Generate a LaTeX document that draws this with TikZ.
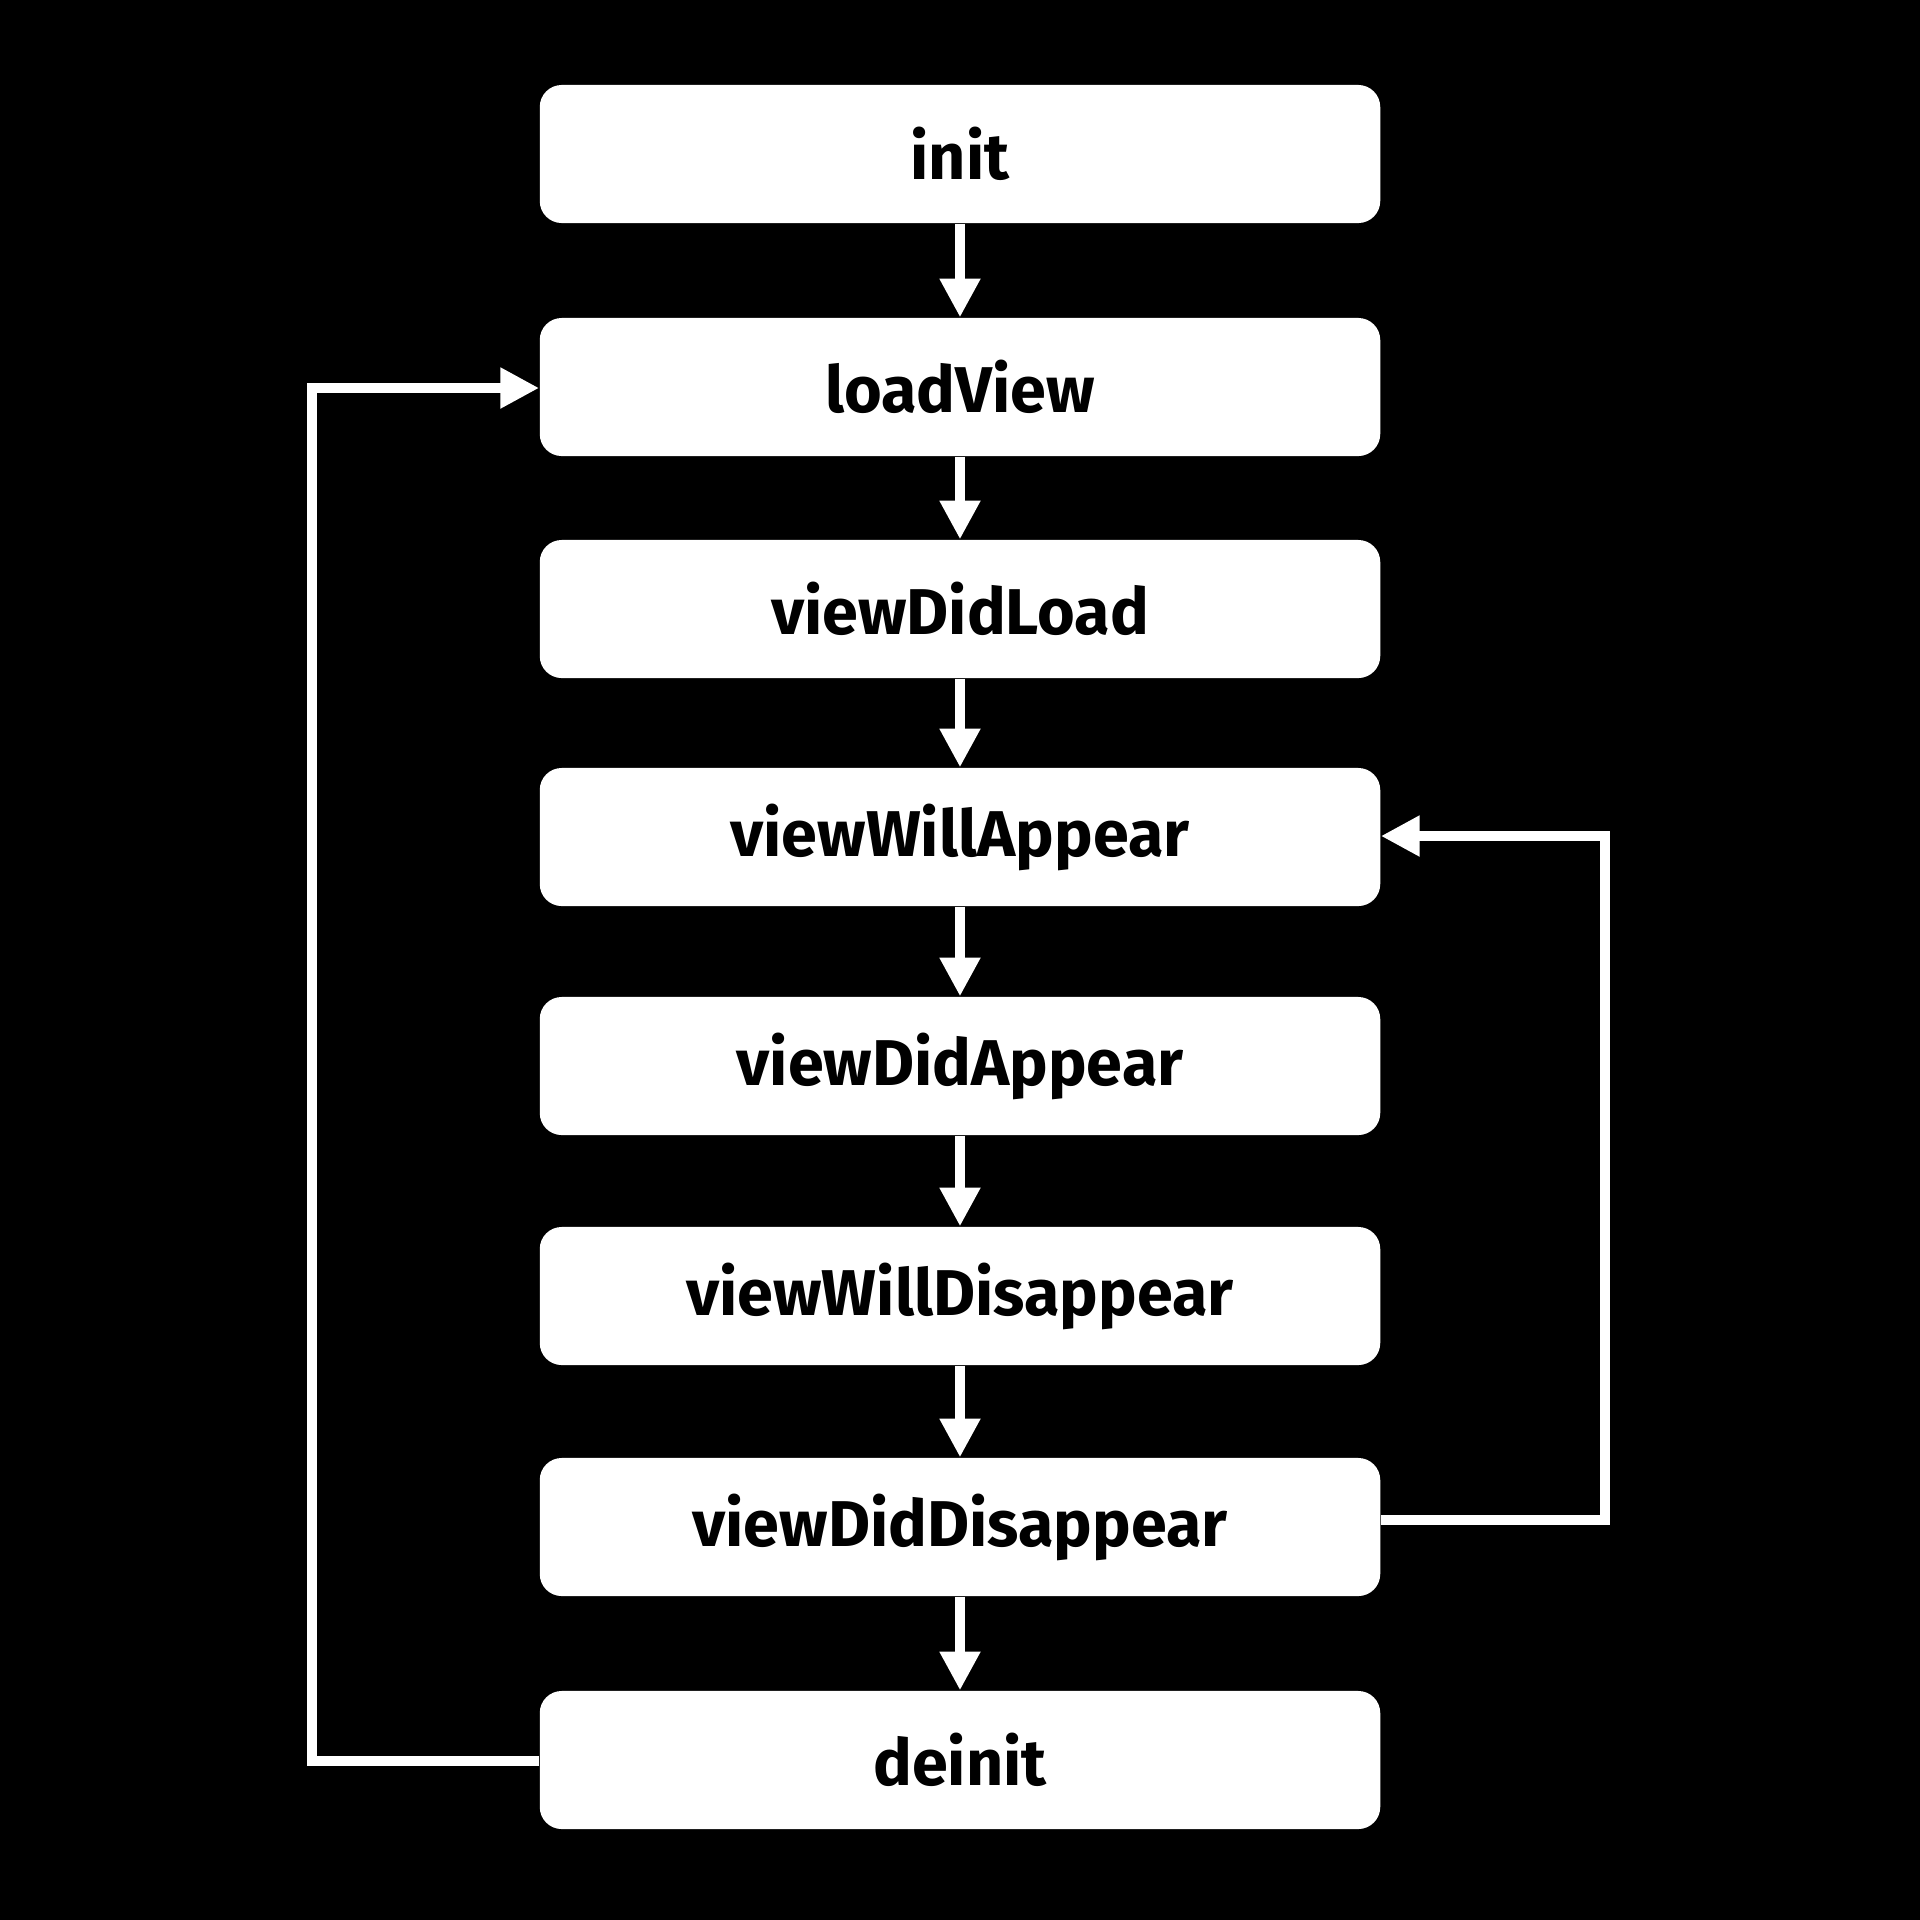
\documentclass[tikz,border=0pt]{standalone}
\usepackage{fontspec}
\setmainfont{Fira Sans}
\usetikzlibrary{arrows.meta}
\begin{document}
\begin{tikzpicture}[x=0.01cm,y=-0.01cm,
  box/.style={fill=white,draw=none,rounded corners=0.22cm,minimum width=8.4cm,minimum height=1.38cm,inner sep=0pt,
    font=\fontsize{18.4}{21}\selectfont\bfseries,text=black},
  conn/.style={draw=white,line width=2.6pt,-{Triangle[width=11pt,length=11pt]}}]
\fill[black] (0,0) rectangle (1920,1920);
\node[box] (init) at (960,154) {init};
\node[box] (load) at (960,387) {loadView};
\node[box] (vdl) at (960,609) {viewDidLoad};
\node[box] (vwa) at (960,837) {viewWillAppear};
\node[box] (vda) at (960,1066) {viewDidAppear};
\node[box] (vwd) at (960,1296) {viewWillDisappear};
\node[box] (vdd) at (960,1527) {viewDidDisappear};
\node[box] (deinit) at (960,1760) {deinit};
\draw[conn] (init) -- (load);
\draw[conn] (load) -- (vdl);
\draw[conn] (vdl) -- (vwa);
\draw[conn] (vwa) -- (vda);
\draw[conn] (vda) -- (vwd);
\draw[conn] (vwd) -- (vdd);
\draw[conn] (vdd) -- (deinit);
\coordinate (lb) at (312,1761);
\coordinate (lt) at (312,388);
\coordinate (rb) at (1605,1520);
\coordinate (rt) at (1605,836);
\draw[conn] (deinit.west |- lb) -- (lb) -- (lt) -- (load.west |- lt);
\draw[conn] (vdd.east |- rb) -- (rb) -- (rt) -- (vwa.east |- rt);
\end{tikzpicture}
\end{document}
